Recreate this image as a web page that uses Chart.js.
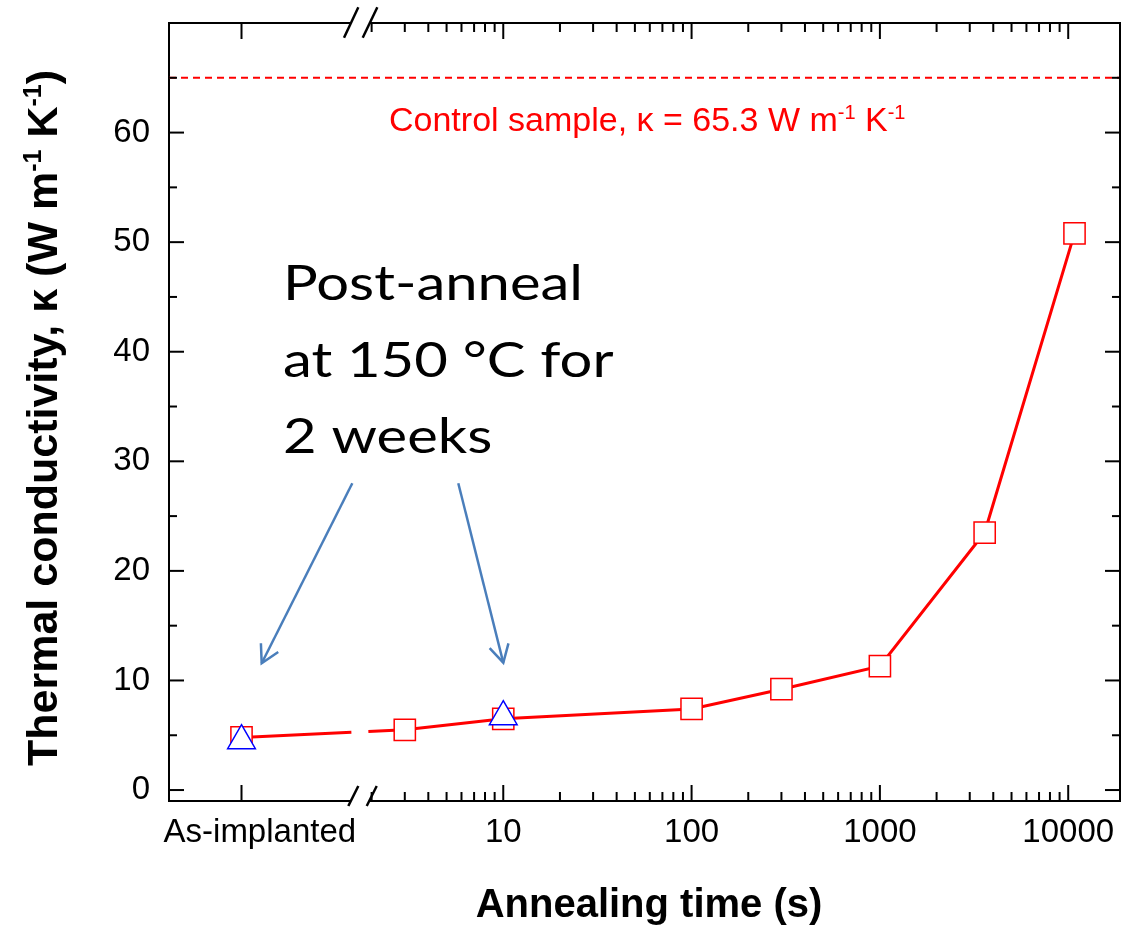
<!DOCTYPE html>
<html>
<head>
<meta charset="utf-8">
<script src="https://cdn.jsdelivr.net/npm/chart.js@4.4.1/dist/chart.umd.min.js"></script>
<style>
  html, body { margin: 0; padding: 0; background: #fff; }
</style>
</head>
<body>
<canvas id="kappaChart" width="1122" height="936"></canvas>
<script>
// annealing time in seconds (0 = as-implanted sample)
const anneal_times = [0, 3, 10, 100, 300, 1000, 3600, 10800];
const kappa_values = [4.8, 5.5, 6.5, 7.4, 9.2, 11.3, 23.5, 50.8];

// samples post-annealed at 150 C for 2 weeks
const post_times = [0, 10];
const post_kappa = [4.5, 6.7];

// control sample
const control_kappa = 65.0;
const control_label = "65.3";

const x_tick_values = [0, 10, 100, 1000, 10000];
const x_tick_labels = ["As-implanted", "10", "100", "1000", "10000"];
const y_tick_values = [0, 10, 20, 30, 40, 50, 60];

// x axis is log10(time), with the as-implanted point on a separate piece left of the break
const AS_IMPLANTED_POS = -0.39;
const BREAK_POS = 0.25;
const X_MIN = -0.775;
const X_MAX = 4.275;

const FONT = "'Liberation Sans', Arial, sans-serif";
const RED = "#ff0000";
const ARROW_BLUE = "#4a7ebb";

function xPos(t) {
  return t === 0 ? AS_IMPLANTED_POS : Math.log10(t);
}

function noPadding() {
  return { left: 0, top: 0, right: 0, bottom: 0 };
}

function drawRich(c, parts, x, y) {
  // parts: [text, font, rise]
  let pos = x;
  parts.forEach(function (p) {
    c.font = p[1];
    c.fillText(p[0], pos, y - p[2]);
    pos += c.measureText(p[0]).width;
  });
  return pos - x;
}

function richWidth(c, parts) {
  let w = 0;
  parts.forEach(function (p) {
    c.font = p[1];
    w += c.measureText(p[0]).width;
  });
  return w;
}

function seg(c, x1, y1, x2, y2) {
  c.beginPath();
  c.moveTo(x1, y1);
  c.lineTo(x2, y2);
  c.stroke();
}

function arrow(c, x1, y1, x2, y2) {
  const ang = Math.atan2(y1 - y2, x1 - x2);
  const wing = 20;
  const spread = (29 * Math.PI) / 180;
  seg(c, x1, y1, x2, y2);
  c.beginPath();
  c.moveTo(x2 + Math.cos(ang - spread) * wing, y2 + Math.sin(ang - spread) * wing);
  c.lineTo(x2, y2);
  c.lineTo(x2 + Math.cos(ang + spread) * wing, y2 + Math.sin(ang + spread) * wing);
  c.stroke();
}

// frame, inward ticks, axis break, titles and annotations
const framePlugin = {
  id: "frame",
  afterDraw(chart) {
    const c = chart.ctx;
    const a = chart.chartArea;
    const xs = chart.scales.x;
    const ys = chart.scales.y;
    c.save();
    c.strokeStyle = "#000";
    c.lineWidth = 2;
    c.lineCap = "butt";

    // top and right axis lines
    c.beginPath();
    c.moveTo(a.left, a.top);
    c.lineTo(a.right, a.top);
    c.lineTo(a.right, a.bottom);
    c.stroke();

    // y ticks, left and right
    for (let v = 0; v <= 70; v += 5) {
      const y = ys.getPixelForValue(v);
      const len = v % 10 === 0 ? 15 : 8;
      seg(c, a.left, y, a.left + len, y);
      seg(c, a.right, y, a.right - len, y);
    }

    // x ticks, bottom and top
    x_tick_values.forEach(function (t) {
      const x = xs.getPixelForValue(xPos(t));
      seg(c, x, a.bottom, x, a.bottom - 16);
      seg(c, x, a.top, x, a.top + 16);
    });
    for (let d = 0; d <= 4; d++) {
      for (let k = 2; k <= 9; k++) {
        const v = Math.log10(k * Math.pow(10, d));
        if (v <= BREAK_POS || v >= X_MAX) continue;
        const x = xs.getPixelForValue(v);
        seg(c, x, a.bottom, x, a.bottom - 9);
        seg(c, x, a.top, x, a.top + 9);
      }
    }

    // axis break
    const bx = xs.getPixelForValue(BREAK_POS);
    c.fillStyle = "#fff";
    c.fillRect(bx - 11, a.bottom - 3, 18.5, 6);
    c.fillRect(bx - 11, a.top - 3, 18.5, 6);
    c.lineWidth = 2.5;
    seg(c, bx - 13.7, a.bottom + 5, bx - 3.7, a.bottom - 15);
    seg(c, bx + 4.7, a.bottom + 5, bx + 14.7, a.bottom - 15);
    seg(c, bx - 18, a.top + 14.7, bx - 3.7, a.top - 15.7);
    seg(c, bx + 0.7, a.top + 14.7, bx + 15.3, a.top - 15.7);

    // control sample label
    c.fillStyle = RED;
    c.textAlign = "left";
    c.textBaseline = "alphabetic";
    const cf = "34px " + FONT;
    const cs = "20px " + FONT;
    drawRich(c, [
      ["Control sample, \u03ba = " + control_label + " W m", cf, 0],
      ["-1", cs, 12],
      [" K", cf, 0],
      ["-1", cs, 12]
    ], 389, 131);

    // post-anneal note (stretched a little to match the original text box)
    c.fillStyle = "#000";
    c.font = "49px Lato, 'Open Sans', sans-serif";
    const sx = 300 / c.measureText("Post-anneal").width;
    c.save();
    c.translate(283, 0);
    c.scale(sx, 1);
    c.fillText("Post-anneal", 0, 300);
    c.fillText("at 150 \u00b0C for", 0, 377);
    c.fillText("2 weeks", 0, 453);
    c.restore();

    c.strokeStyle = ARROW_BLUE;
    c.lineWidth = 2.5;
    arrow(c, 352.3, 483.3, 261.7, 663.3);
    arrow(c, 458.3, 483.3, 503.3, 662.7);

    // x title
    c.fillStyle = "#000";
    c.textAlign = "center";
    c.font = "bold 40px " + FONT;
    c.fillText("Annealing time (s)", 649, 917);

    // y title (rotated)
    const bf = "bold 43px " + FONT;
    const bs = "bold 25px " + FONT;
    const yParts = [
      ["Thermal conductivity, \u03ba (W m", bf, 0],
      ["-1", bs, 16],
      [" K", bf, 0],
      ["-1", bs, 16],
      [")", bf, 0]
    ];
    c.textAlign = "left";
    c.translate(57, 418);
    c.rotate(-Math.PI / 2);
    const w = richWidth(c, yParts);
    drawRich(c, yParts, -w / 2, 0);
    c.restore();
  }
};

let ctx = document.getElementById("kappaChart").getContext("2d");

const config = {
  type: "line",
  data: {
    datasets: [
      {
        label: "Post-anneal at 150 C",
        data: post_times.map(function (t, i) {
          return { x: xPos(t), y: post_kappa[i] };
        }),
        showLine: false,
        pointStyle: "triangle",
        pointRadius: 16,
        pointBorderColor: "#0000ff",
        pointBackgroundColor: "#ffffff",
        pointBorderWidth: 1.5,
        order: 0
      },
      {
        label: "Annealed",
        data: anneal_times.map(function (t, i) {
          return { x: xPos(t), y: kappa_values[i] };
        }),
        borderColor: RED,
        borderWidth: 3,
        pointStyle: "rect",
        pointRadius: 15,
        pointBorderColor: RED,
        pointBackgroundColor: "#ffffff",
        pointBorderWidth: 1.5,
        // gap in the line where the axis is broken
        segment: {
          borderDash: function (s) {
            return s.p0DataIndex === 0 ? [110, 17, 5000] : undefined;
          }
        },
        order: 1
      },
      {
        label: "Control",
        data: [
          { x: X_MIN, y: control_kappa },
          { x: X_MAX, y: control_kappa }
        ],
        borderColor: RED,
        borderWidth: 2,
        borderDash: [7, 5],
        pointRadius: 0,
        order: 2
      }
    ]
  },
  options: {
    responsive: false,
    animation: false,
    devicePixelRatio: 1,
    layout: { autoPadding: false, padding: { left: 0, top: 23, right: 2, bottom: 0 } },
    plugins: {
      legend: { display: false },
      tooltip: { enabled: false }
    },
    scales: {
      x: {
        type: "linear",
        min: X_MIN,
        max: X_MAX,
        afterBuildTicks: function (s) {
          s.ticks = x_tick_values.map(function (t) {
            return { value: xPos(t) };
          });
        },
        afterFit: function (s) {
          s.height = 135;
          s.paddingLeft = 0;
          s.paddingRight = 0;
          s.getPadding = noPadding;
        },
        grid: { display: false, drawTicks: false },
        border: { display: true, color: "#000", width: 2 },
        ticks: {
          color: "#000",
          font: { family: FONT, size: 33 },
          padding: 12,
          maxRotation: 0,
          autoSkip: false,
          callback: function (v, i) {
            return i === 0 ? "    " + x_tick_labels[0] : x_tick_labels[i];
          }
        }
      },
      y: {
        type: "linear",
        min: -1,
        max: 70,
        afterBuildTicks: function (s) {
          s.ticks = y_tick_values.map(function (v) {
            return { value: v };
          });
        },
        afterFit: function (s) {
          s.width = 169;
          s.paddingTop = 0;
          s.paddingBottom = 0;
          s.getPadding = noPadding;
        },
        grid: { display: false, drawTicks: false },
        border: { display: true, color: "#000", width: 2 },
        ticks: {
          color: "#000",
          font: { family: FONT, size: 33 },
          padding: 19
        }
      }
    }
  },
  plugins: [framePlugin]
};

let myChart = new Chart(ctx, config);
</script>
</body>
</html>
